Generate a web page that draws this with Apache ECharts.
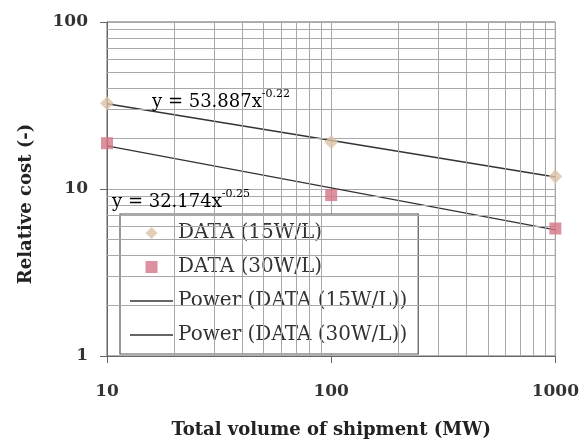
<!DOCTYPE html>
<html>
<head>
<meta charset="utf-8">
<script src="https://cdn.jsdelivr.net/npm/echarts@6/dist/echarts.min.js"></script>
<style>html,body{margin:0;padding:0;background:#fff}#c{width:582px;height:444px}</style>
</head>
<body>
<div id="c"></div>
<script>
// ---- data ----
var xValues = [10, 100, 1000];
var data15 = [32.6, 19.1, 11.9];
var data30 = [18.8, 9.2, 5.8];
// power trend end points (straight on log-log)
var trendX = [10, 1000];
var trend15 = [32.4, 11.8];
var trend30 = [18.1, 5.7];
// minor grid values
var xMinor = [20,30,40,50,60,70,80,90,200,300,400,500,600,700,800,900];
var yMinor = [2,3,4,5,6,7,8,9,20,30,40,50,60,70,80,90];
var seriesNames = ['DATA (15W/L)', 'DATA (30W/L)', 'Power (DATA (15W/L))', 'Power (DATA (30W/L))'];
var eq15 = ['y = 53.887x', '-0.22'];
var eq30 = ['y = 32.174x', '-0.25'];

var FONT = 'DejaVu Serif';
function pairs(xs, ys){ return xs.map(function(x,i){ return [x, ys[i]]; }); }

var chart = echarts.init(document.getElementById('c'), null, {renderer:'canvas'});
var gridCol = '#a8a8a8';
var lineIcon = 'path://M0,0H86V3H0Z';
var eqRich = {
  a:{fontFamily:FONT,fontSize:18,color:'#444',lineHeight:22,verticalAlign:'bottom'},
  b:{fontFamily:FONT,fontSize:11,color:'#444',lineHeight:22,verticalAlign:'top'}
};
var option = {
  animation: false,
  backgroundColor: '#fff',
  grid: {left:107, right:25, top:22, bottom:85, show:true, borderColor:'#666', borderWidth:1, backgroundColor:'transparent'},
  xAxis: {
    type:'log', logBase:10, min:10, max:1000,
    name:'Total volume of shipment (MW)', nameLocation:'middle', nameGap:65,
    nameTextStyle:{fontFamily:FONT, fontWeight:'bold', fontSize:18, color:'#222'},
    axisLine:{show:true, lineStyle:{color:'#666', width:1}},
    axisTick:{show:true, inside:false, length:7, lineStyle:{color:'#666'}},
    axisLabel:{margin:27, fontFamily:FONT, fontWeight:'bold', fontSize:17, color:'#333', formatter:function(v){return String(v);}},
    splitLine:{show:true, lineStyle:{color:gridCol, width:1}}
  },
  yAxis: {
    type:'log', logBase:10, min:1, max:100,
    name:'Relative cost (-)', nameLocation:'middle', nameGap:72, nameRotate:90,
    nameTextStyle:{fontFamily:FONT, fontWeight:'bold', fontSize:18, color:'#222', padding:[0,30,0,0]},
    axisLine:{show:true, lineStyle:{color:'#666', width:1}},
    axisTick:{show:true, inside:false, length:7, lineStyle:{color:'#666'}},
    axisLabel:{margin:19, fontFamily:FONT, fontWeight:'bold', fontSize:17, color:'#333', formatter:function(v){return String(v);}},
    splitLine:{show:true, lineStyle:{color:gridCol, width:1}}
  },
  legend: {
    orient:'vertical', left:120, top:214,
    data: [
      {name:seriesNames[0], icon:'path://M0,6L6,0L12,6L6,12Z'},
      {name:seriesNames[1], icon:'path://M0,0H10V10H0Z'},
      {name:seriesNames[2], icon:lineIcon},
      {name:seriesNames[3], icon:lineIcon}
    ],
    symbolKeepAspect:true,
    itemWidth:43, itemHeight:12, itemGap:14,
    padding:[9,11,9,10],
    backgroundColor:'#fff', borderColor:'#555', borderWidth:1.2,
    textStyle:{fontFamily:FONT, fontSize:20, color:'#333'},
    selectedMode:false
  },
  graphic: [
    {type:'text', left:152, top:89, z:50, style:{text:'{a|'+eq15[0]+'}{b|'+eq15[1]+'}', rich:eqRich}},
    {type:'text', left:112, top:189, z:50, style:{text:'{a|'+eq30[0]+'}{b|'+eq30[1]+'}', rich:eqRich}}
  ],
  series: [
    {
      name:'_grid', type:'line', data:[], silent:true, z:0,
      markLine:{silent:true, symbol:['none','none'], label:{show:false},
        lineStyle:{color:gridCol, width:1, type:'solid'},
        emphasis:{disabled:true},
        data: xMinor.map(function(v){return {xAxis:v};}).concat(yMinor.map(function(v){return {yAxis:v};}))
      }
    },
    {name:seriesNames[2], type:'line', data:pairs(trendX, trend15), symbol:'none', z:3, lineStyle:{color:'#333', width:1.3}, itemStyle:{color:'#333'}},
    {name:seriesNames[3], type:'line', data:pairs(trendX, trend30), symbol:'none', z:3, lineStyle:{color:'#333', width:1.3}, itemStyle:{color:'#333'}},
    {name:seriesNames[0], type:'scatter', data:pairs(xValues, data15), symbol:'diamond', symbolSize:14, z:5, itemStyle:{color:'#dcc2a6'}},
    {name:seriesNames[1], type:'scatter', data:pairs(xValues, data30), symbol:'rect', symbolSize:12, z:5, itemStyle:{color:'#d47484'}}
  ]
};
chart.setOption(option);
</script>
</body>
</html>
